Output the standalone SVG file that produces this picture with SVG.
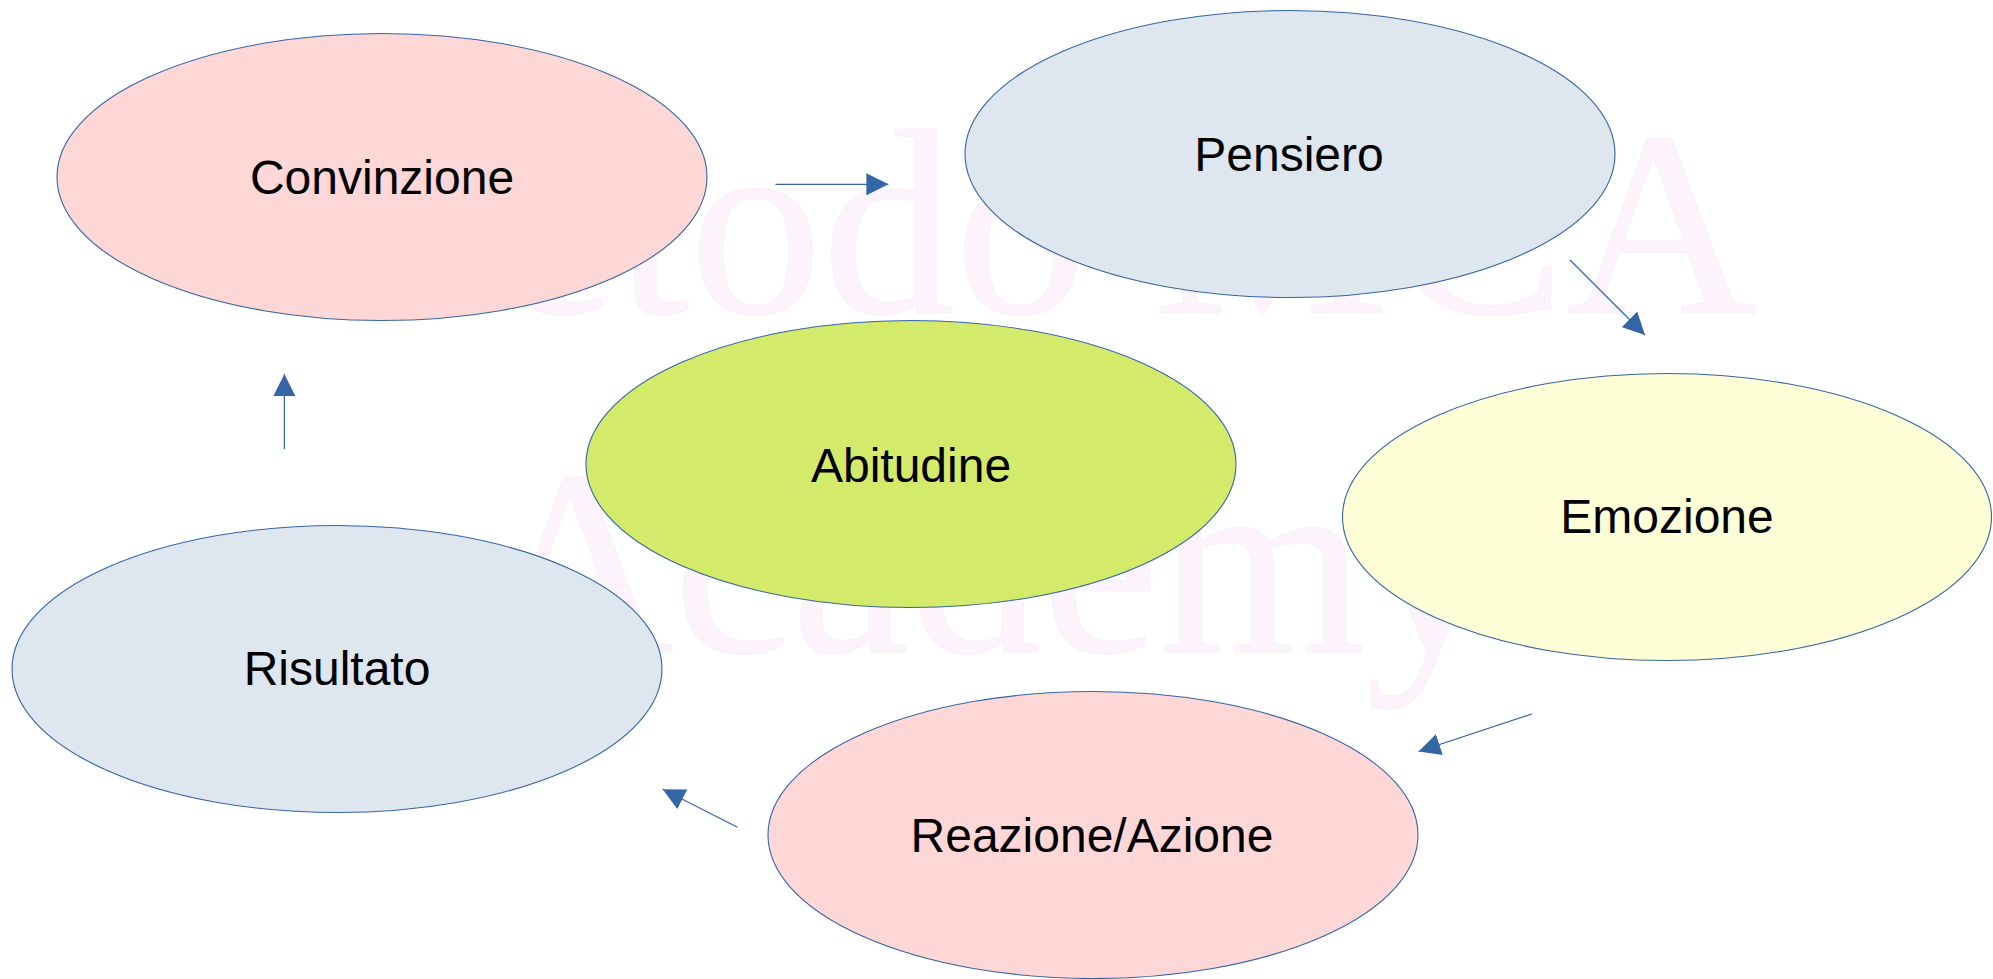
<svg xmlns="http://www.w3.org/2000/svg" width="1993" height="979" viewBox="0 0 1993 979">
<style>
.wm{font-family:"Liberation Serif","Times New Roman",serif;font-size:265px;fill:#fcf3fc;stroke:#f7f2f7;stroke-width:1;text-anchor:middle}
.node ellipse{stroke:#3465a4;stroke-width:1.1}
.node text{font-family:"Liberation Sans",Arial,sans-serif;font-size:48px;fill:#000;text-anchor:middle}
.pink{fill:#ffd7d7}.blue{fill:#dee6ef}.green{fill:#d4ea6b}.yellow{fill:#ffffd7}
#connectors line{stroke:#3465a4;stroke-width:1.2;marker-end:url(#head)}
</style>
<defs>
<marker id="head" markerUnits="userSpaceOnUse" markerWidth="22" markerHeight="22" refX="22" refY="11" orient="auto" viewBox="0 0 22 22">
<path d="M0,0 L22,11 L0,22 z" fill="#3465a4"/>
</marker>
</defs>
<rect width="1993" height="979" fill="#fff"/>
<g id="watermark">
<text class="wm" x="1010" y="313">Metodo MCA</text>
<text class="wm" x="990" y="652">Academy</text>
</g>
<g id="convinzione" class="node"><ellipse class="pink" cx="382" cy="177" rx="325" ry="143.5"/><text x="382" y="194">Convinzione</text></g>
<g id="pensiero" class="node"><ellipse class="blue" cx="1290" cy="154" rx="325" ry="143.5"/><text x="1289" y="171">Pensiero</text></g>
<g id="abitudine" class="node"><ellipse class="green" cx="911" cy="464" rx="325" ry="143.5"/><text x="911" y="482">Abitudine</text></g>
<g id="emozione" class="node"><ellipse class="yellow" cx="1667" cy="517" rx="324.5" ry="143.5"/><text x="1667" y="533">Emozione</text></g>
<g id="risultato" class="node"><ellipse class="blue" cx="337" cy="669" rx="325" ry="143.5"/><text x="337" y="685">Risultato</text></g>
<g id="reazione" class="node"><ellipse class="pink" cx="1093" cy="835" rx="325" ry="143.5"/><text x="1092" y="852">Reazione/Azione</text></g>
<g id="connectors">
<line x1="775.5" y1="184.3" x2="888.4" y2="184.3"/>
<line x1="1570" y1="260" x2="1645" y2="335"/>
<line x1="1532" y1="714" x2="1418.5" y2="751.5"/>
<line x1="737.5" y1="827.3" x2="662.7" y2="789.3"/>
<line x1="284.4" y1="449" x2="284.4" y2="374"/>
</g>
</svg>
